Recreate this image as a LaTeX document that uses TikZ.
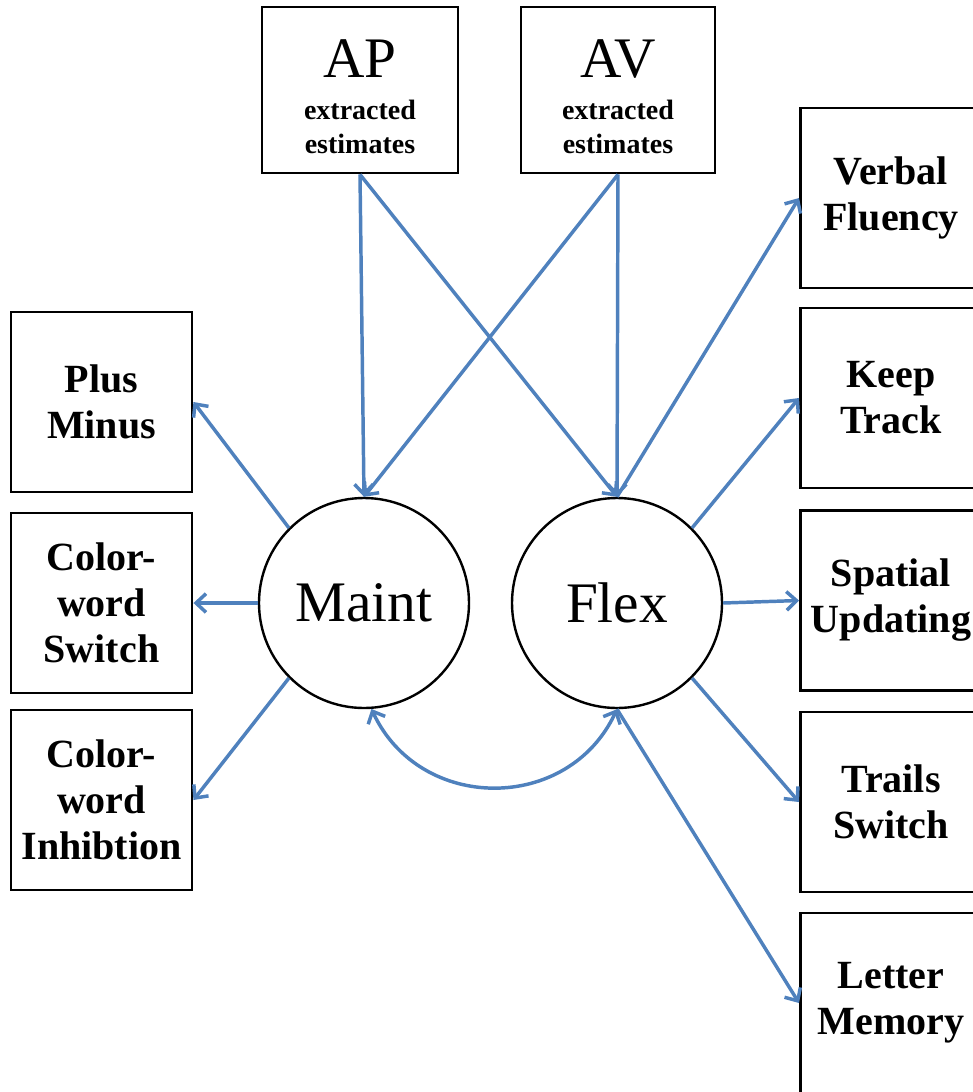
\documentclass[tikz,border=0pt]{standalone}
\usepackage{fontspec}
\setmainfont{Liberation Serif}
\usetikzlibrary{arrows.meta}

\definecolor{loadblue}{RGB}{79,129,189}

\tikzset{every picture/.style={line width=0.75pt}}
\tikzset{
  taskbox/.style={draw, line width=2.2pt, minimum width=135.75pt, minimum height=135pt,
    inner sep=0pt, align=center, font=\bfseries\fontsize{30}{34.5}\selectfont},
  srcbox/.style={draw, line width=2.2pt, minimum height=124.5pt, inner sep=0pt,
    align=center, font=\bfseries\fontsize{21}{26}\selectfont},
  latent/.style={draw, circle, line width=1.8pt, minimum size=157.5pt, inner sep=0pt,
    font=\fontsize{43}{48}\selectfont},
  load/.style={draw=loadblue, line width=2.6pt, -{Straight Barb[length=7.5pt,width=14pt]}},
  covar/.style={draw=loadblue, line width=2.6pt, {Straight Barb[length=7.5pt,width=14pt]}-{Straight Barb[length=7.5pt,width=14pt]}}
}

\begin{document}
\begin{tikzpicture}[x=0.75pt,y=0.75pt,yscale=-1,xscale=1]
\useasboundingbox (0,0) rectangle (973,1092);

% Source boxes
\node [srcbox, minimum width=147pt] (ap) at (360,90) {\rule{0pt}{39pt}{\mdseries\fontsize{43}{43}\selectfont AP}\\[5pt]extracted\\estimates};
\node [srcbox, minimum width=145.5pt] (av) at (618,90) {\rule{0pt}{39pt}{\mdseries\fontsize{43}{43}\selectfont AV}\\[5pt]extracted\\estimates};

% Latent factors
\node [latent] (maint) at (364,603) {Maint};
\node [latent] (flex) at (617,603) {Flex};

% Left tasks
\node [taskbox] (plus) at (101.5,402) {Plus\\Minus};
\node [taskbox] (cwswitch) at (101.5,603) {Color-\\word\\Switch};
\node [taskbox] (cwinhib) at (101.5,800) {Color-\\word\\Inhibtion};

% Right tasks
\node [taskbox] (verbal) at (891,198) {Verbal\\Fluency};
\node [taskbox] (keep) at (891,398) {Keep\\Track};
\node [taskbox] (spatial) at (891,600.5) {Spatial\\Updating};
\node [taskbox] (trails) at (891,802) {Trails\\Switch};
\node [taskbox] (letter) at (891,1003) {Letter\\Memory};

% Estimates to factors
\draw [load] (ap.south) -- (maint.north);
\draw [load] (ap.south) -- (flex.north);
\draw [load] (av.south) -- (maint.north);
\draw [load] (av.south) -- (flex.north);

% Maint loadings
\draw [load] (maint.135) -- (plus.east);
\draw [load] (maint.west) -- (cwswitch.east);
\draw [load] (maint.225) -- (cwinhib.east);

% Flex loadings
\draw [load] (flex.north) -- (verbal.west);
\draw [load] (flex.45) -- (keep.west);
\draw [load] (flex.east) -- (spatial.west);
\draw [load] (flex.-45) -- (trails.west);
\draw [load] (flex.south) -- (letter.west);

% Covariance
\draw [covar] (maint.-86) to [out=65,in=115,looseness=1.2] (flex.south);

\end{tikzpicture}
\end{document}
